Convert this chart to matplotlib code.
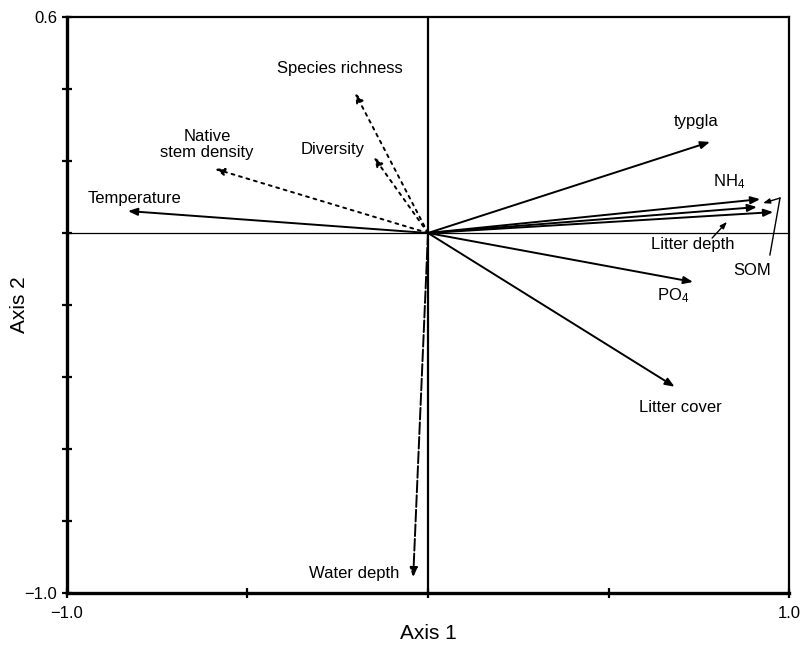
import matplotlib
matplotlib.use('Agg')
import matplotlib.pyplot as plt

plt.rcParams['font.family'] = ['Liberation Sans', 'DejaVu Sans']
plt.rcParams['mathtext.default'] = 'regular'

# biplot vectors (axis 1, axis 2)
names = ['Temperature', 'Native stem density', 'Species richness', 'Diversity',
         'typgla', 'NH4', 'SOM', 'Litter depth', 'PO4', 'Litter cover', 'Water depth']
ax1 = [-0.831, -0.590, -0.202, -0.150, 0.781, 0.920, 0.911, 0.956, 0.734, 0.683, -0.041]
ax2 = [0.061, 0.178, 0.389, 0.211, 0.253, 0.094, 0.072, 0.058, -0.136, -0.427, -0.956]
styles = ['-', ':', ':', ':', '-', '-', '-', '-', '-', '-', '--']

# label text and position
label_text = ['Temperature', 'Native\nstem density', 'Species richness', 'Diversity',
              'typgla', 'NH$_4$', None, None, 'PO$_4$', 'Litter cover', 'Water depth']
label_x = [-0.814, -0.612, -0.244, -0.263, 0.742, 0.834, None, None, 0.680, 0.698, -0.205]
label_y = [0.097, 0.245, 0.458, 0.232, 0.311, 0.142, None, None, -0.175, -0.485, -0.947]

fig = plt.figure(figsize=(8.03, 6.49), dpi=100)
ax = fig.add_axes([0.0834, 0.0863, 0.8992, 0.8875])

ax.axhline(0, color='black', lw=0.9)
ax.axvline(0, color='black', lw=1.6)

for x, y, ls in zip(ax1, ax2, styles):
    dash = (0, (1.5, 2.5)) if ls == ':' else ((0, (6, 1.5)) if ls == '--' else '-')
    ax.annotate('', xy=(x, y), xytext=(0, 0),
                arrowprops=dict(arrowstyle='-|>,head_length=0.55,head_width=0.22',
                                color='black', lw=1.4, linestyle=dash,
                                shrinkA=0, shrinkB=0))

for t, x, y in zip(label_text, label_x, label_y):
    if t is None:
        continue
    ax.text(x, y, t, ha='center', va='center', fontsize=12, linespacing=1.1)

# leader lines for the crowded labels
ax.text(0.734, -0.033, 'Litter depth', ha='center', va='center', fontsize=12)
ax.annotate('', xy=(0.828, 0.031), xytext=(0.787, -0.014),
            arrowprops=dict(arrowstyle='-|>,head_length=0.4,head_width=0.15',
                            color='black', lw=1, shrinkA=0, shrinkB=0))
ax.text(0.898, -0.103, 'SOM', ha='center', va='center', fontsize=12)
ax.plot([0.947, 0.975], [-0.061, 0.097], color='black', lw=1)
ax.annotate('', xy=(0.928, 0.083), xytext=(0.975, 0.097),
            arrowprops=dict(arrowstyle='-|>,head_length=0.4,head_width=0.15',
                            color='black', lw=1, shrinkA=0, shrinkB=0))

ax.set_xlim(-1, 1)
ax.set_ylim(-1, 0.6)
ax.set_xticks([-1, -0.5, 0, 0.5, 1])
ax.set_xticklabels(['\u22121.0', '', '', '', '1.0'])
ax.set_yticks([-1, -0.8, -0.6, -0.4, -0.2, 0, 0.2, 0.4, 0.6])
ax.set_yticklabels(['\u22121.0', '', '', '', '', '', '', '', '0.6'])
ax.tick_params(direction='inout', length=7, width=1.6, labelsize=12)
ax.tick_params(axis='x', pad=6)

ax.spines['left'].set_linewidth(2.4)
ax.spines['bottom'].set_linewidth(2.4)
ax.spines['top'].set_linewidth(1.6)
ax.spines['right'].set_linewidth(1.6)

ax.set_xlabel('Axis 1', fontsize=15, labelpad=2)
ax.set_ylabel('Axis 2', fontsize=15, va='center')
ax.yaxis.set_label_coords(-0.066, 0.5)

plt.savefig('out.png', dpi=100)
